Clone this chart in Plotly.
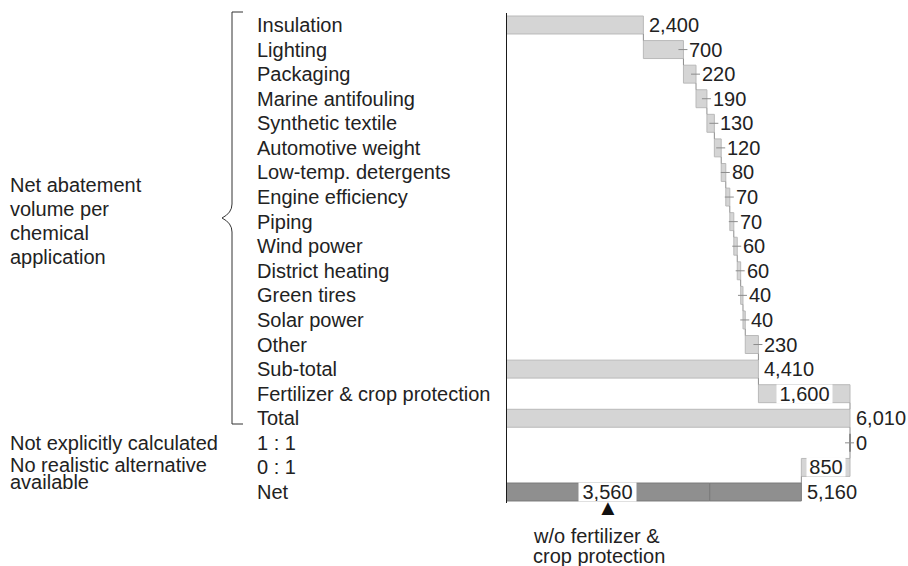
import plotly.graph_objects as go

# ---------------- data ----------------
categories = ["Insulation", "Lighting", "Packaging", "Marine antifouling", "Synthetic textile",
              "Automotive weight", "Low-temp. detergents", "Engine efficiency", "Piping",
              "Wind power", "District heating", "Green tires", "Solar power", "Other",
              "Sub-total", "Fertilizer & crop protection", "Total", "1 : 1", "0 : 1", "Net"]
application_values = [2400, 700, 220, 190, 130, 120, 80, 70, 70, 60, 60, 40, 40, 230]
subtotal = 4410
fertilizer = 1600
total = 6010
not_calculated = 0          # 1 : 1
no_alternative = 850        # 0 : 1
net = 5160
net_without_fertilizer = 3560

group_lines = ["Net abatement", "volume per", "chemical", "application"]
side_labels = ["Not explicitly calculated", "No realistic alternative", "available"]
note_lines = ["w/o fertilizer &", "crop protection"]

# ---------------- layout constants ----------------
OFF = 0
W, H = 908, 566
L, R, T = 506, 2, 13
PW = W - L - R
PH = 490
B = H - T - PH
X_SCALE = 344 / 6010                       # px per unit
X_MAX = PW / X_SCALE
Y_TOP, Y_BOT = -0.488, 19.4475
BAR_W = 0.73
FONT = "Arial, 'Liberation Sans', Helvetica, sans-serif"
TXT = "#222222"
LIGHT = "#d5d5d5"
LIGHT_LINE = "#b9b9b9"
DARK = "#8f8f8f"
CONN = "#8c8c8c"


def px_x(px):
    return (px - OFF - L) / PW


def px_y(py):
    return (T + PH - (py - OFF)) / PH


# ---------------- bar geometry from data ----------------
starts, ends = [], []
cum = 0
for v in application_values:
    starts.append(cum)
    cum += v
    ends.append(cum)
starts.append(0); ends.append(subtotal)                              # sub-total
starts.append(subtotal); ends.append(subtotal + fertilizer)          # fertilizer
starts.append(0); ends.append(total)                                 # total
starts.append(total); ends.append(total + not_calculated)            # 1 : 1
starts.append(total - no_alternative); ends.append(total)            # 0 : 1

levels = ends[:14] + [subtotal, subtotal + fertilizer, total, total, total - no_alternative]

n_light = len(starts)
fig = go.Figure()
fig.add_trace(go.Bar(
    y=list(range(n_light)), x=[e - s for s, e in zip(starts, ends)], base=starts,
    orientation="h", width=BAR_W,
    marker=dict(color=LIGHT, line=dict(color=LIGHT_LINE, width=1)),
    hoverinfo="skip", showlegend=False))

net_idx = len(categories) - 1
fig.add_trace(go.Bar(
    y=[net_idx, net_idx], x=[net_without_fertilizer, net - net_without_fertilizer],
    base=[0, net_without_fertilizer], orientation="h", width=BAR_W,
    marker=dict(color=DARK, line=dict(color="#7a7a7a", width=1)),
    hoverinfo="skip", showlegend=False))

shapes = []
annotations = []

# axis line
shapes.append(dict(type="line", xref="x", yref="paper", x0=0, x1=0, y0=0, y1=1,
                   line=dict(color="#1a1a1a", width=2)))

# connectors
for i, lev in enumerate(levels):
    shapes.append(dict(type="line", xref="x", yref="y", x0=lev, x1=lev,
                       y0=i + BAR_W / 2, y1=i + 1 - BAR_W / 2,
                       line=dict(color=CONN, width=1)))

# zero-width bar tick
zi = categories.index("1 : 1")
shapes.append(dict(type="line", xref="x", yref="y", x0=ends[zi], x1=ends[zi],
                   y0=zi - BAR_W / 2, y1=zi + BAR_W / 2, line=dict(color="#777777", width=1.5)))

font = dict(family=FONT, size=20, color=TXT)

# value labels
outside_rows = [0, 14, 16]
inside_rows = {15: 55, 18: 38}
all_vals = application_values + [subtotal, fertilizer, total, not_calculated, no_alternative]
for i in range(n_light):
    val = all_vals[i]
    txt = f"{val:,}"
    if i in inside_rows:
        annotations.append(dict(x=(starts[i] + ends[i]) / 2, y=i, xref="x", yref="y",
                                text=txt, showarrow=False, xanchor="center", yanchor="middle",
                                bgcolor="white", width=inside_rows[i], height=18, borderpad=0,
                                font=font))
    else:
        if i not in outside_rows:
            shapes.append(dict(type="line", xref="x", yref="y", xsizemode="pixel",
                               xanchor=ends[i], x0=-5, x1=4, y0=i, y1=i,
                               line=dict(color=CONN, width=1)))
        annotations.append(dict(x=ends[i], y=i, xref="x", yref="y", text=txt,
                                showarrow=False, xanchor="left", yanchor="middle",
                                xshift=4, font=font))

# net labels
annotations.append(dict(x=net, y=net_idx, xref="x", yref="y", text=f"{net:,}",
                        showarrow=False, xanchor="left", yanchor="middle", xshift=4, font=font))
annotations.append(dict(x=net_without_fertilizer / 2, y=net_idx, xref="x", yref="y",
                        text=f"{net_without_fertilizer:,}", showarrow=False,
                        xanchor="center", yanchor="middle", bgcolor="white",
                        width=57, height=18, borderpad=0, font=font))
annotations.append(dict(x=net_without_fertilizer / 2, y=px_y(508), xref="x", yref="paper",
                        text="▲", showarrow=False, xanchor="center", yanchor="middle",
                        font=dict(family=FONT, size=22, color="#111111")))
for k, line in enumerate(note_lines):
    annotations.append(dict(x=px_x(531), y=px_y(536 + 20 * k), xref="paper", yref="paper",
                            text=line, showarrow=False, xanchor="left", yanchor="middle",
                            font=font))

# category labels
for i, c in enumerate(categories):
    annotations.append(dict(x=px_x(255), y=i, xref="paper", yref="y", text=c,
                            showarrow=False, xanchor="left", yanchor="middle", font=font))

# left group text
for k, line in enumerate(group_lines):
    annotations.append(dict(x=px_x(8), y=px_y(185 + 24 * k), xref="paper", yref="paper",
                            text=line, showarrow=False, xanchor="left", yanchor="middle",
                            font=font))
annotations.append(dict(x=px_x(8), y=categories.index("1 : 1"), xref="paper", yref="y",
                        text=side_labels[0], showarrow=False, xanchor="left",
                        yanchor="middle", font=font))
annotations.append(dict(x=px_x(8), y=px_y(465), xref="paper", yref="paper",
                        text=side_labels[1], showarrow=False, xanchor="left",
                        yanchor="middle", font=font))
annotations.append(dict(x=px_x(8), y=px_y(482), xref="paper", yref="paper",
                        text=side_labels[2], showarrow=False, xanchor="left",
                        yanchor="middle", font=font))

# bracket
bx, bt, bb, bp = px_x(232), px_y(12), px_y(424), px_x(222)
br = px_x(243)
ym = px_y(218)
y1, y2 = px_y(204), px_y(232)
yq1, yq2 = px_y(213), px_y(223)
path = (f"M {br},{bt} L {bx},{bt} L {bx},{y1} Q {bx},{yq1} {bp},{ym} "
        f"Q {bx},{yq2} {bx},{y2} L {bx},{bb} L {br},{bb}")
shapes.append(dict(type="path", xref="paper", yref="paper", path=path,
                   line=dict(color="#333333", width=1)))

fig.update_layout(
    width=W, height=H, margin=dict(l=L, r=R, t=T, b=B),
    paper_bgcolor="white", plot_bgcolor="white", barmode="overlay",
    xaxis=dict(range=[0, X_MAX], visible=False, fixedrange=True),
    yaxis=dict(range=[Y_BOT, Y_TOP], visible=False, fixedrange=True),
    shapes=shapes, annotations=annotations, showlegend=False,
)

fig.write_html("out.html", config={"displayModeBar": False},
               post_script="document.body.style.margin='0';document.body.style.overflow='hidden';")
